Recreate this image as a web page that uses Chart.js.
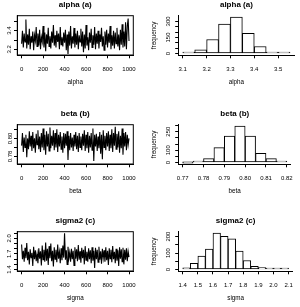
<!DOCTYPE html>
<html>
<head>
<meta charset="utf-8">
<script src="https://cdn.jsdelivr.net/npm/chart.js"></script>
<style>
  body { margin: 0; background: #fff; }
  canvas { position: absolute; }
</style>
</head>
<body>
<canvas id="alphaTrace" width="150" height="91" style="left:0;top:0"></canvas>
<canvas id="alphaHist" width="150" height="91" style="left:150px;top:0"></canvas>
<canvas id="betaTrace" width="150" height="91" style="left:0;top:109px"></canvas>
<canvas id="betaHist" width="150" height="91" style="left:150px;top:109px"></canvas>
<canvas id="sigmaTrace" width="150" height="91" style="left:0;top:216px"></canvas>
<canvas id="sigmaHist" width="150" height="91" style="left:150px;top:216px"></canvas>
<script>
// iteration number of each trace sample (thinned, every 8th)
const iterations = Array.from({length: 126}, (_, i) => i * 8);
const iterTicks = [0, 200, 400, 600, 800, 1000];

const alphaTrace = [
  3.26, 3.40, 3.22, 3.37, 3.28, 3.52, 3.21, 3.36, 3.25, 3.42,
  3.20, 3.34, 3.27, 3.39, 3.19, 3.35, 3.29, 3.44, 3.23, 3.37,
  3.24, 3.41, 3.20, 3.33, 3.28, 3.45, 3.22, 3.38, 3.18, 3.36,
  3.26, 3.43, 3.23, 3.34, 3.21, 3.39, 3.27, 3.46, 3.24, 3.35,
  3.22, 3.40, 3.28, 3.37, 3.20, 3.44, 3.25, 3.33, 3.23, 3.38,
  3.27, 3.41, 3.19, 3.36, 3.15, 3.39, 3.24, 3.45, 3.21, 3.34,
  3.26, 3.43, 3.22, 3.37, 3.25, 3.40, 3.20, 3.35, 3.28, 3.42,
  3.23, 3.39, 3.17, 3.36, 3.21, 3.46, 3.24, 3.33, 3.19, 3.38,
  3.27, 3.42, 3.22, 3.35, 3.25, 3.44, 3.20, 3.37, 3.26, 3.40,
  3.21, 3.36, 3.28, 3.43, 3.23, 3.34, 3.19, 3.39, 3.25, 3.41,
  3.22, 3.37, 3.27, 3.45, 3.20, 3.35, 3.24, 3.40, 3.21, 3.38,
  3.26, 3.43, 3.23, 3.36, 3.19, 3.41, 3.25, 3.47, 3.22, 3.39,
  3.23, 3.49, 3.20, 3.45, 3.53, 3.29
];
const betaTrace = [
  0.792, 0.806, 0.785, 0.801, 0.790, 0.804, 0.779, 0.800, 0.788, 0.808,
  0.791, 0.803, 0.786, 0.807, 0.789, 0.800, 0.784, 0.805, 0.793, 0.809,
  0.788, 0.802, 0.785, 0.806, 0.790, 0.811, 0.787, 0.804, 0.782, 0.808,
  0.791, 0.805, 0.786, 0.812, 0.789, 0.803, 0.792, 0.809, 0.787, 0.806,
  0.790, 0.810, 0.785, 0.804, 0.791, 0.807, 0.788, 0.802, 0.784, 0.806,
  0.789, 0.805, 0.792, 0.808, 0.776, 0.803, 0.787, 0.806, 0.790, 0.801,
  0.786, 0.804, 0.791, 0.807, 0.788, 0.803, 0.785, 0.806, 0.790, 0.802,
  0.787, 0.805, 0.792, 0.809, 0.786, 0.804, 0.789, 0.807, 0.784, 0.803,
  0.790, 0.806, 0.787, 0.811, 0.775, 0.804, 0.791, 0.805, 0.786, 0.802,
  0.789, 0.807, 0.783, 0.804, 0.777, 0.809, 0.790, 0.803, 0.787, 0.806,
  0.791, 0.808, 0.786, 0.804, 0.789, 0.810, 0.785, 0.806, 0.792, 0.813,
  0.788, 0.805, 0.790, 0.808, 0.784, 0.803, 0.789, 0.811, 0.782, 0.806,
  0.791, 0.807, 0.787, 0.804, 0.793, 0.800
];
const sigmaTrace = [
  1.88, 1.60, 1.76, 1.55, 1.82, 1.62, 1.91, 1.58, 1.74, 1.50,
  1.79, 1.63, 1.72, 1.47, 1.84, 1.60, 1.77, 1.56, 1.70, 1.52,
  1.81, 1.61, 1.75, 1.48, 1.86, 1.59, 1.78, 1.55, 1.92, 1.57,
  1.80, 1.49, 1.85, 1.62, 1.90, 1.56, 1.76, 1.46, 1.83, 1.60,
  1.78, 1.54, 1.88, 1.61, 1.74, 1.52, 1.81, 1.58, 1.86, 1.63,
  2.10, 1.59, 1.77, 1.50, 1.84, 1.62, 1.73, 1.55, 1.80, 1.60,
  1.76, 1.48, 1.83, 1.61, 1.79, 1.56, 1.87, 1.59, 1.75, 1.53,
  1.82, 1.62, 1.78, 1.50, 1.85, 1.58, 1.74, 1.55, 1.81, 1.60,
  1.77, 1.52, 1.83, 1.57, 1.76, 1.43, 1.82, 1.60, 1.78, 1.54,
  1.84, 1.59, 1.75, 1.51, 1.80, 1.62, 1.77, 1.55, 1.83, 1.58,
  1.76, 1.49, 1.81, 1.61, 1.78, 1.54, 1.85, 1.60, 1.74, 1.52,
  1.80, 1.57, 1.77, 1.47, 1.83, 1.61, 1.79, 1.55, 1.82, 1.50,
  1.78, 1.59, 1.81, 1.56, 1.75, 1.64
];

// histogram bins (break points) and counts
const alphaBreaks = [3.10, 3.15, 3.20, 3.25, 3.30, 3.35, 3.40, 3.45, 3.50, 3.55];
const alphaCounts = [4, 35, 131, 275, 340, 190, 66, 5, 4];
const betaBreaks = [0.770, 0.775, 0.780, 0.785, 0.790, 0.795, 0.800, 0.805, 0.810, 0.815, 0.820];
const betaCounts = [0, 10, 32, 121, 214, 295, 214, 74, 32, 8];
const sigmaBreaks = [1.40, 1.45, 1.50, 1.55, 1.60, 1.65, 1.70, 1.75, 1.80, 1.85, 1.90, 1.95, 2.00, 2.05, 2.10];
const sigmaCounts = [10, 37, 82, 124, 221, 202, 186, 112, 55, 20, 12, 2, 1, 1];

// tick positions and labels (R leaves out labels that would overlap)
const alphaYTicks = [3.2, 3.3, 3.4, 3.5];
const alphaYLabels = ['3.2', '', '3.4', ''];
const betaYTicks = [0.78, 0.79, 0.80, 0.81];
const betaYLabels = ['0.78', '', '0.80', ''];
const sigmaYTicks = [1.4, 1.5, 1.6, 1.7, 1.8, 1.9, 2.0, 2.1];
const sigmaYLabels = ['1.4', '', '', '1.7', '', '', '2.0', ''];

const alphaXTicks = [3.1, 3.2, 3.3, 3.4, 3.5];
const alphaXLabels = ['3.1', '3.2', '3.3', '3.4', '3.5'];
const betaXTicks = [0.77, 0.78, 0.79, 0.80, 0.81, 0.82];
const betaXLabels = ['0.77', '0.78', '0.79', '0.80', '0.81', '0.82'];
const sigmaXTicks = [1.4, 1.5, 1.6, 1.7, 1.8, 1.9, 2.0, 2.1];
const sigmaXLabels = ['1.4', '1.5', '1.6', '1.7', '1.8', '1.9', '2.0', '2.1'];

const alphaFreqTicks = [0, 50, 100, 150, 200, 250, 300];
const alphaFreqLabels = ['0', '', '', '150', '', '', '300'];
const betaFreqTicks = [0, 50, 100, 150, 200, 250, 300];
const betaFreqLabels = ['0', '', '100', '', '', '250', ''];
const sigmaFreqTicks = [0, 50, 100, 150, 200];
const sigmaFreqLabels = ['0', '', '100', '', '200'];

Chart.defaults.font.family = '"Liberation Sans", Arial, sans-serif';
Chart.defaults.color = '#000';

// box round the plot region, like R's plot()
const frame = {
  id: 'frame',
  afterDraw(chart) {
    const {ctx, chartArea: a} = chart;
    ctx.save();
    ctx.strokeStyle = '#000';
    ctx.lineWidth = 1;
    ctx.strokeRect(a.left, a.top, a.right - a.left, a.bottom - a.top);
    ctx.restore();
  }
};

function axisX(min, max, ticks, labels, title) {
  return {
    type: 'linear', min: min, max: max, offset: false,
    afterBuildTicks: s => { s.ticks = ticks.map(v => ({value: v})); },
    afterFit: s => { s.height = 32; },
    border: {display: true, color: '#000'},
    grid: {offset: false, drawOnChartArea: false, tickLength: 3.3, color: '#000'},
    ticks: {autoSkip: false, maxRotation: 0, padding: 7, font: {size: 6}, callback: (v, i) => labels[i]},
    title: {display: true, text: title, font: {size: 6.3}, padding: {top: 0, bottom: 1.2}}
  };
}

function axisY(min, max, ticks, labels, width, pad) {
  return {
    min: min, max: max,
    afterBuildTicks: s => { s.ticks = ticks.map(v => ({value: v})); },
    afterFit: s => { s.width = width; },
    border: {display: true, color: '#000'},
    grid: {drawOnChartArea: false, tickLength: 3.3, color: '#000'},
    ticks: {autoSkip: false, minRotation: 90, maxRotation: 90, crossAlign: 'center', padding: pad,
            font: {size: 6}, callback: (v, i) => labels[i]}
  };
}

function titleOpts(text) {
  return {display: true, text: text, fullSize: false, color: '#000',
          font: {size: 8, weight: 'bold'}, padding: {top: 0, bottom: 6.1}};
}

function tracePlot(id, title, xTitle, values, yMin, yMax, yTicks, yLabels, pad) {
  new Chart(document.getElementById(id), {
    type: 'line',
    data: {
      datasets: [{
        data: values.map((v, i) => ({x: iterations[i], y: v})),
        borderColor: '#000', borderWidth: 1.1, pointRadius: 0, tension: 0
      }]
    },
    options: {
      responsive: false, animation: false,
      layout: {padding: {left: 0, right: 16.7, top: 0, bottom: 4}},
      plugins: {legend: {display: false}, tooltip: {enabled: false}, title: titleOpts(title)},
      scales: {
        x: axisX(-40, 1040, iterTicks, iterTicks.map(String), xTitle),
        y: axisY(yMin, yMax, yTicks, yLabels, 17.3, pad)
      }
    },
    plugins: [frame]
  });
}

function histPlot(id, title, xTitle, breaks, counts, xTicks, xLabels, yTicks, yLabels) {
  const lo = breaks[0], hi = breaks[breaks.length - 1];
  const top = Math.max(...counts);
  const y = axisY(-0.04 * top, 1.04 * top, yTicks, yLabels, 28.5, 2);
  y.title = {display: true, text: 'frequency', font: {size: 6.3}, padding: 0};
  new Chart(document.getElementById(id), {
    type: 'bar',
    data: {
      datasets: [{
        data: counts.map((c, i) => ({x: (breaks[i] + breaks[i + 1]) / 2, y: c})),
        backgroundColor: '#fff', borderColor: '#000', borderWidth: 1,
        borderSkipped: false, barPercentage: 1, categoryPercentage: 1, minBarLength: 1.5
      }]
    },
    options: {
      responsive: false, animation: false,
      layout: {padding: {left: 0, right: 5.7, top: 0, bottom: 4}},
      plugins: {legend: {display: false}, tooltip: {enabled: false}, title: titleOpts(title)},
      scales: {
        x: axisX(lo - 0.04 * (hi - lo), hi + 0.04 * (hi - lo), xTicks, xLabels, xTitle),
        y: y
      }
    }
  });
}

tracePlot('alphaTrace', 'alpha (a)', 'alpha', alphaTrace, 3.139, 3.561, alphaYTicks, alphaYLabels, 0);
tracePlot('betaTrace', 'beta (b)', 'beta', betaTrace, 0.7716, 0.8152, betaYTicks, betaYLabels, -1.8);
tracePlot('sigmaTrace', 'sigma2 (c)', 'sigma', sigmaTrace, 1.372, 2.128, sigmaYTicks, sigmaYLabels, 0);

histPlot('alphaHist', 'alpha (a)', 'alpha', alphaBreaks, alphaCounts, alphaXTicks, alphaXLabels, alphaFreqTicks, alphaFreqLabels);
histPlot('betaHist', 'beta (b)', 'beta', betaBreaks, betaCounts, betaXTicks, betaXLabels, betaFreqTicks, betaFreqLabels);
histPlot('sigmaHist', 'sigma2 (c)', 'sigma', sigmaBreaks, sigmaCounts, sigmaXTicks, sigmaXLabels, sigmaFreqTicks, sigmaFreqLabels);
</script>
</body>
</html>
